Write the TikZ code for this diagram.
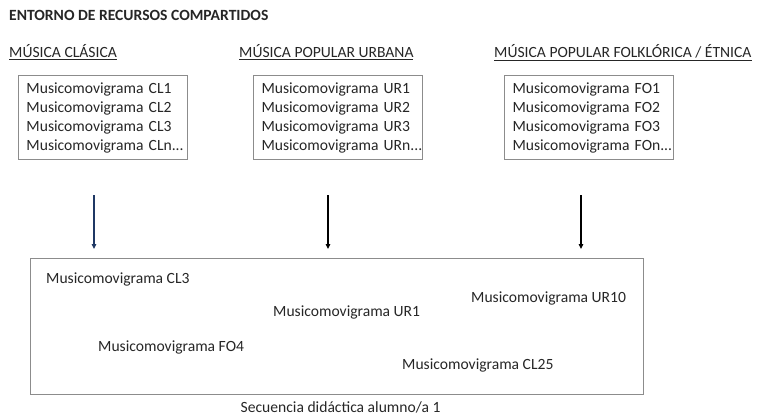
\documentclass[tikz,border=0pt]{standalone}
\usepackage{fontspec}
\setmainfont{Carlito}
\usetikzlibrary{arrows.meta}
\definecolor{boxgray}{HTML}{8C8C8C}
\definecolor{navyarrow}{HTML}{1F3864}
\definecolor{txt}{HTML}{262626}
\begin{document}
\begin{tikzpicture}[x=1pt,y=-1pt,
  every node/.style={font=\fontsize{15.6}{19}\selectfont, text=txt},
  listbox/.style={draw=boxgray, line width=1pt, rectangle, align=left, text width=153pt, inner xsep=8pt, inner ysep=0pt, minimum height=84pt, anchor=north west},
  header/.style={anchor=base west, inner sep=0pt},
  item/.style={anchor=west, inner sep=0pt},
  arr/.style={-{Triangle[length=5pt,width=4.5pt]}, line width=1.2pt}
]
\useasboundingbox (0,0) rectangle (758,417);
\node[header, font=\fontsize{15.6}{19}\selectfont\bfseries] (title) at (9,20.7) {ENTORNO DE RECURSOS COMPARTIDOS};
\node[header] (h1) at (9,58) {\underline{MÚSICA CLÁSICA}};
\node[header] (h2) at (239,58) {\underline{MÚSICA POPULAR URBANA}};
\node[header] (h3) at (494,58) {\underline{MÚSICA POPULAR FOLKLÓRICA / ÉTNICA}};

\node[listbox] (b1) at (18,75) {Musicomovigrama~CL1\\Musicomovigrama~CL2\\Musicomovigrama~CL3\\Musicomovigrama~CLn...};
\node[listbox] (b2) at (253,75) {Musicomovigrama~UR1\\Musicomovigrama~UR2\\Musicomovigrama~UR3\\Musicomovigrama~URn...};
\node[listbox] (b3) at (504,75) {Musicomovigrama~FO1\\Musicomovigrama~FO2\\Musicomovigrama~FO3\\Musicomovigrama~FOn...};

\node[draw=boxgray, line width=1.2pt, rectangle, minimum width=613pt, minimum height=136pt, inner sep=0pt, anchor=north west] (seq) at (30,258) {};
\node[item] (i1) at (46,279) {Musicomovigrama CL3};
\node[item] (i2) at (471,298) {Musicomovigrama UR10};
\node[item] (i3) at (273,312) {Musicomovigrama UR1};
\node[item] (i4) at (98,347) {Musicomovigrama FO4};
\node[item] (i5) at (402,365) {Musicomovigrama CL25};
\node[inner sep=0pt, anchor=base west] (cap) at (240.5,412.5) {Secuencia didáctica alumno/a 1};

\coordinate (s1) at (94,195);
\coordinate (e1) at (94,249);
\coordinate (s2) at (328,195);
\coordinate (e2) at (328,249);
\coordinate (s3) at (581,195);
\coordinate (e3) at (581,249);
\draw[arr, draw=navyarrow, fill=navyarrow] (s1) -- (e1);
\draw[arr] (s2) -- (e2);
\draw[arr] (s3) -- (e3);
\end{tikzpicture}
\end{document}
